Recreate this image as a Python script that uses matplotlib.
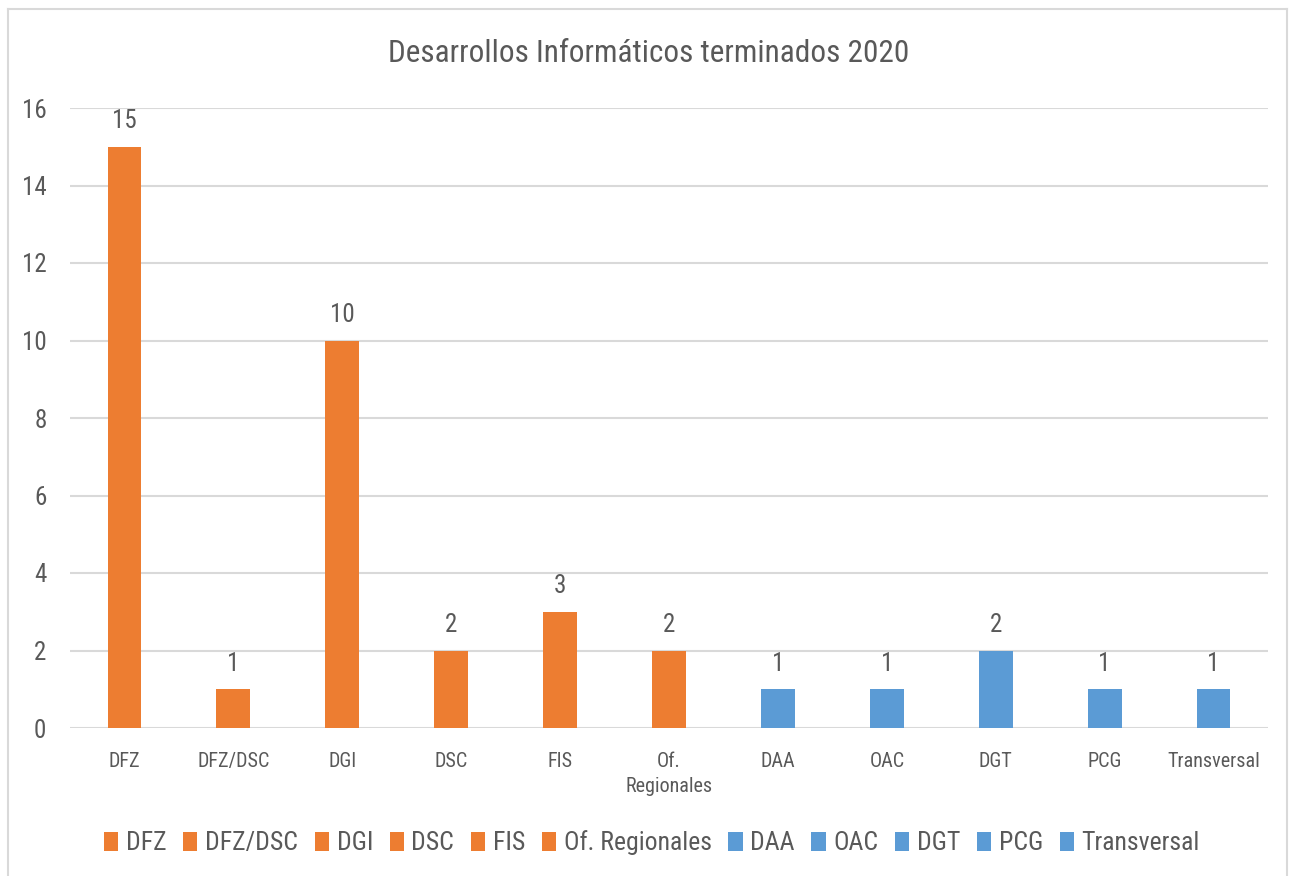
import matplotlib
matplotlib.use("Agg")
import matplotlib.pyplot as plt
from matplotlib.lines import Line2D

categories = ["DFZ", "DFZ/DSC", "DGI", "DSC", "FIS", "Of. Regionales",
              "DAA", "OAC", "DGT", "PCG", "Transversal"]
tick_labels = ["DFZ", "DFZ/DSC", "DGI", "DSC", "FIS", "Of.\nRegionales",
               "DAA", "OAC", "DGT", "PCG", "Transversal"]
values = [15, 1, 10, 2, 3, 2, 1, 1, 2, 1, 1]
groups = ["o", "o", "o", "o", "o", "o", "b", "b", "b", "b", "b"]
title = "Desarrollos Informáticos terminados 2020"

ORANGE = "#ED7D31"
BLUE = "#5B9BD5"
TXT = "#595959"
GRID = "#D9D9D9"

plt.rcParams['font.family'] = ["Roboto Condensed", "DejaVu Sans"]

fig = plt.figure(figsize=(12.89, 8.76), dpi=100)
ax = fig.add_axes([70/1289, 1-728/876, (1268-70)/1289, (728-108)/876])

x = list(range(len(categories)))
for i, (c, v, g) in enumerate(zip(categories, values, groups)):
    ax.bar(i, v, width=0.31, color=ORANGE if g == "o" else BLUE, label=c, zorder=3)
    ax.text(i, v + 0.35, str(v), ha="center", va="bottom", fontsize=18, color=TXT)

ax.set_xlim(-0.5, len(categories) - 0.5)
ax.set_ylim(0, 16)
ax.set_yticks(range(0, 17, 2))
ax.set_xticks(x)
ax.set_xticklabels(tick_labels, fontsize=14.5, color=TXT, linespacing=1.45)
ax.tick_params(axis="x", length=0, pad=17)
ax.tick_params(axis="y", length=0, pad=17, labelsize=18, labelcolor=TXT)
ax.grid(axis="y", color=GRID, linewidth=1.5, zorder=0)
for s in ax.spines.values():
    s.set_visible(False)

fig.text(649/1289, 1-54/876, title, ha="center", va="center", fontsize=22.5, color=TXT)

handles, labels = ax.get_legend_handles_labels()
leg = fig.legend(handles, labels, loc="center", bbox_to_anchor=(652/1289, 1-843/876),
                 ncol=11, frameon=False, fontsize=18.5, handlelength=0.55, handleheight=0.8,
                 handletextpad=0.3, columnspacing=0.65, labelcolor=TXT)

# chart frame
fc = "#D9D9D9"
fig.add_artist(Line2D([8/1289, 8/1289], [0, 1-9/876], color=fc, lw=1.5, transform=fig.transFigure))
fig.add_artist(Line2D([8/1289, 1287/1289], [1-9/876, 1-9/876], color=fc, lw=1.5, transform=fig.transFigure))
fig.add_artist(Line2D([1287/1289, 1287/1289], [0, 1-9/876], color=fc, lw=1.5, transform=fig.transFigure))

fig.savefig("out.png", dpi=100)
